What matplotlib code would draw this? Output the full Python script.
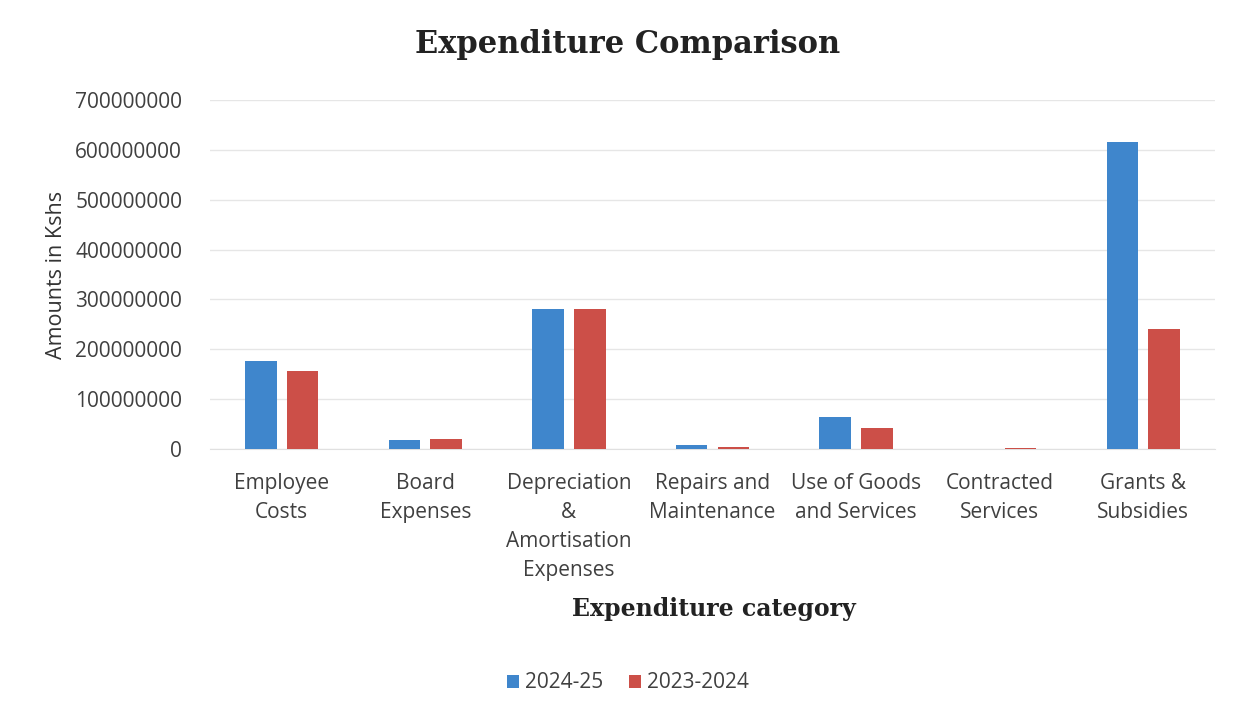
import numpy as np
import matplotlib.pyplot as plt

categories = ['Employee\nCosts', 'Board\nExpenses', 'Depreciation\n&\nAmortisation\nExpenses',
              'Repairs and\nMaintenance', 'Use of Goods\nand Services', 'Contracted\nServices',
              'Grants &\nSubsidies']
fy_2024_25 = [176e6, 18e6, 281e6, 8e6, 64e6, 0, 616e6]
fy_2023_24 = [156e6, 20e6, 281e6, 4e6, 42e6, 1.5e6, 240e6]

blue = '#3f86cc'
red = '#cc4f48'

fig = plt.figure(figsize=(12.53, 7.19), dpi=100)
ax = fig.add_axes([210 / 1253, 1 - 449 / 719, 1005 / 1253, 349 / 719])

x = np.arange(len(categories))
w = 0.22
ax.bar(x - 0.145, fy_2024_25, w, color=blue, label='2024-25', zorder=3)
ax.bar(x + 0.145, fy_2023_24, w, color=red, label='2023-2024', zorder=3)

ax.set_xlim(-0.5, len(categories) - 0.5)
ax.set_ylim(0, 700e6)
yt = np.arange(0, 700e6 + 1, 100e6)
ax.set_yticks(yt)
ax.set_yticklabels([f'{int(v)}' for v in yt])
ax.yaxis.grid(True, color='#e6e6e6', linewidth=1, zorder=0)
ax.set_xticks(x)
ax.set_xticklabels(categories, linespacing=1.5)
for s in ['top', 'right', 'left']:
    ax.spines[s].set_visible(False)
ax.spines['bottom'].set_color('#e0e0e0')
ax.tick_params(length=0, labelsize=15, labelcolor='#404040')
ax.tick_params(axis='y', pad=20)
ax.tick_params(axis='x', pad=17)
for t in ax.get_xticklabels() + ax.get_yticklabels():
    t.set_fontfamily('Open Sans')

ax.set_ylabel('Amounts in Kshs', fontsize=15.5, family='Open Sans', color='#333333', labelpad=6)
fig.text(628 / 1253, 1 - 45 / 719, 'Expenditure Comparison', ha='center', va='center',
         fontsize=22, fontweight='bold', family='DejaVu Serif', color='#222222')
fig.text(714 / 1253, 1 - 609 / 719, 'Expenditure category', ha='center', va='center',
         fontsize=17, fontweight='bold', family='DejaVu Serif', color='#222222')
fig.legend(loc='center', bbox_to_anchor=(628 / 1253, 1 - 683 / 719), ncol=2, frameon=False,
           prop={'family': 'Open Sans', 'size': 15}, handlelength=0.6, handleheight=0.6,
           handletextpad=0.3, columnspacing=1.2, labelcolor='#404040')

fig.savefig('out.png', dpi=100)
